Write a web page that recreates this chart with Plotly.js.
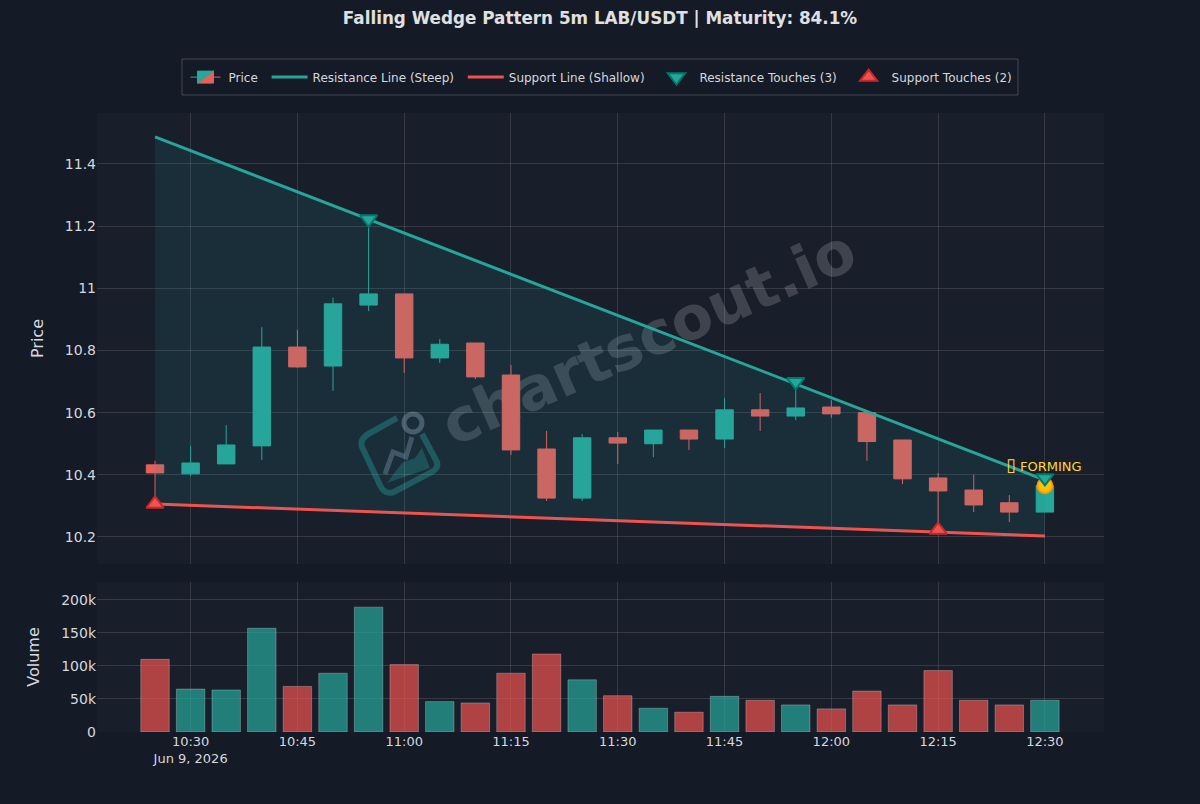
<!DOCTYPE html>
<html><head><meta charset="utf-8">
<script src="https://cdn.plot.ly/plotly-3.0.1.min.js"></script>
<style>html,body{margin:0;padding:0;background:#141a26}</style></head>
<body><div id="chart" style="width:1200px;height:804px"></div>
<script>
const times=["10:25","10:30","10:35","10:40","10:45","10:50","10:55","11:00","11:05","11:10","11:15","11:20","11:25","11:30","11:35","11:40","11:45","11:50","11:55","12:00","12:05","12:10","12:15","12:20","12:25","12:30"].map(t=>"2026-06-09 "+t);
const opens=[10.432,10.403,10.435,10.493,10.811,10.75,10.946,10.982,10.776,10.824,10.721,10.483,10.325,10.519,10.50,10.544,10.515,10.609,10.589,10.618,10.60,10.512,10.39,10.351,10.31,10.28];
const highs=[10.445,10.493,10.56,10.875,10.866,10.97,11.223,10.982,10.837,10.824,10.753,10.541,10.531,10.538,10.544,10.544,10.647,10.663,10.699,10.64,10.60,10.512,10.406,10.40,10.335,10.39];
const lows=[10.306,10.396,10.435,10.448,10.744,10.67,10.927,10.728,10.76,10.708,10.464,10.316,10.316,10.435,10.457,10.48,10.486,10.541,10.576,10.583,10.445,10.37,10.222,10.28,10.248,10.28];
const closes=[10.406,10.438,10.496,10.811,10.747,10.95,10.982,10.776,10.82,10.715,10.48,10.325,10.519,10.502,10.544,10.515,10.609,10.589,10.615,10.596,10.507,10.387,10.348,10.303,10.28,10.365];
const volumes=[110000,65000,63600,157000,69000,89000,189000,102000,46000,44000,89000,118000,79000,55000,36000,30000,54000,48000,41000,35000,62000,41000,93000,48000,41000,48000];
const lineX=["2026-06-09 10:25","2026-06-09 12:30"];
const resistanceY=[11.487,10.383];
const supportY=[10.306,10.203];
const resTouchX=["2026-06-09 10:55","2026-06-09 11:55","2026-06-09 12:30"];
const resTouchY=[11.223,10.699,10.39];
const supTouchX=["2026-06-09 10:25","2026-06-09 12:15"];
const supTouchY=[10.306,10.222];
const formingX=["2026-06-09 12:30"];
const formingY=[10.365];
const TEAL="#26a69a",RED="#ef5350",CTEAL="#27a899",CRED="#e4605a",PAD="\u00a0";
const volColors=closes.map((c,i)=>c>=opens[i]?"rgba(38,166,154,0.7)":"rgba(239,83,80,0.7)");
const data=[
 {type:"scatter",mode:"lines",x:lineX,y:resistanceY,line:{width:0},showlegend:false,hoverinfo:"skip",xaxis:"x",yaxis:"y"},
 {type:"scatter",mode:"lines",x:lineX,y:supportY,line:{width:0},fill:"tonexty",fillcolor:"rgba(40,155,160,0.13)",showlegend:false,hoverinfo:"skip",xaxis:"x",yaxis:"y"},
 {type:"candlestick",name:"Price"+PAD,x:times,open:opens,high:highs,low:lows,close:closes,
  increasing:{line:{color:CTEAL,width:1},fillcolor:CTEAL},decreasing:{line:{color:CRED,width:1},fillcolor:CRED},xaxis:"x",yaxis:"y"},
 {type:"scatter",mode:"lines",name:"Resistance Line (Steep)"+PAD,x:lineX,y:resistanceY,line:{color:TEAL,width:3},xaxis:"x",yaxis:"y"},
 {type:"scatter",mode:"lines",name:"Support Line (Shallow)"+PAD,x:lineX,y:supportY,line:{color:RED,width:3},xaxis:"x",yaxis:"y"},
 {type:"scatter",mode:"markers",showlegend:false,x:formingX,y:formingY,marker:{symbol:"circle",size:15,color:"#ffc107",line:{color:"#ff9800",width:2}},xaxis:"x",yaxis:"y"},
 {type:"scatter",mode:"markers",name:"Resistance Touches (3)"+PAD,x:resTouchX,y:resTouchY,marker:{symbol:"triangle-down",size:15,color:TEAL,line:{color:"#00796b",width:2}},xaxis:"x",yaxis:"y"},
 {type:"scatter",mode:"markers",name:"Support Touches (2)",x:supTouchX,y:supTouchY,marker:{symbol:"triangle-up",size:15,color:RED,line:{color:"#c62828",width:2}},xaxis:"x",yaxis:"y"},
 {type:"bar",name:"Volume",showlegend:false,x:times,y:volumes,marker:{color:volColors,line:{color:"rgba(255,255,255,0.25)",width:1}},xaxis:"x2",yaxis:"y2"}
];
const logoSvg='<svg xmlns="http://www.w3.org/2000/svg" width="100" height="100" viewBox="0 0 100 100">'
 +'<path d="M47 13 L22 27 Q9 33 12 42 L30 80 Q34 90 44 87 L82 67 Q90 62 86 55 L72 29" fill="none" stroke="#26a69a" stroke-opacity="0.38" stroke-width="6"/>'
 +'<path d="M37 78 L52 58 L65 53 L72 43 L80 63Z" fill="#26a69a" fill-opacity="0.3"/>'
 +'<path d="M35 69 L43 47 L56 52 L62 32" fill="none" stroke="#9ab" stroke-opacity="0.35" stroke-width="5"/>'
 +'<circle cx="63" cy="18" r="9" fill="none" stroke="#9ab" stroke-opacity="0.4" stroke-width="5"/></svg>';
const xcommon={type:"date",range:["2026-06-09 10:16:51","2026-06-09 12:38:18"],dtick:900000,tick0:"2026-06-09 10:30",
 gridcolor:"rgba(255,255,255,0.12)",gridwidth:1,zeroline:false,showline:false,tickfont:{color:"#d6d8de",size:13,family:"DejaVu Sans"},ticks:"",rangeslider:{visible:false}};
const ycommon={gridcolor:"rgba(255,255,255,0.12)",gridwidth:1,zeroline:false,showline:false,tickfont:{color:"#d6d8de",size:14,family:"DejaVu Sans"},ticks:""};
const layout={
 width:1200,height:804,paper_bgcolor:"#141a26",plot_bgcolor:"#191e2b",
 font:{family:"DejaVu Sans",color:"#d6d8de"},
 margin:{l:97,r:96,t:113,b:72,pad:0},
 title:{text:"Falling Wedge Pattern 5m LAB/USDT | Maturity: 84.1%",x:0.5,xanchor:"center",y:0.977,yanchor:"middle",font:{family:"DejaVu Sans",size:16.8,color:"#e0e0e0",weight:"bold"}},
 showlegend:true,
 legend:{orientation:"h",traceorder:"normal",itemwidth:36,x:0.4995,xanchor:"center",y:1.058,yanchor:"middle",bgcolor:"rgba(0,0,0,0)",borderwidth:0,font:{size:12,color:"#d6d8de",family:"DejaVu Sans"}},
 bargap:0.2,
 xaxis:Object.assign({},xcommon,{domain:[0,1],anchor:"y",showticklabels:false}),
 yaxis:Object.assign({},ycommon,{domain:[0.2714,1],range:[10.113,11.564],dtick:0.2,tick0:10.2,title:{text:"Price",font:{size:16,color:"#d6d8de"},standoff:17}}),
 xaxis2:Object.assign({},xcommon,{domain:[0,1],anchor:"y2",matches:"x"}),
 yaxis2:Object.assign({},ycommon,{domain:[0,0.2423],range:[0,227000],dtick:50000,tickformat:"~s",title:{text:"Volume",font:{size:16,color:"#d6d8de"},standoff:17}}),
 shapes:[
  {type:"rect",xref:"paper",yref:"paper",x0:0.0844,x1:0.9146,y0:1.0291,y1:1.0872,line:{color:"rgba(255,255,255,0.2)",width:1},fillcolor:"rgba(0,0,0,0)",layer:"above"},
  {type:"rect",xref:"paper",yref:"paper",x0:0.346,x1:0.746,y0:0.544,y1:0.744,line:{width:0},fillcolor:"rgba(0,0,0,0)",layer:"below",
   label:{text:"<b>chartscout.io</b>",textangle:-24,textposition:"middle center",font:{family:"DejaVu Sans",size:60,color:"rgba(255,255,255,0.17)"}}}
 ],
 annotations:[
  {xref:"x",yref:"y",x:"2026-06-09 12:30",y:10.42,yanchor:"bottom",text:'<span style="font-size:18px">\u25AF</span> FORMING',showarrow:false,xshift:-1,yshift:-8,font:{color:"#ffd92e",size:13,family:"DejaVu Sans"}}
 ],
 images:[{source:"data:image/svg+xml;base64,"+btoa(logoSvg),xref:"paper",yref:"paper",x:0.2512,y:0.5283,sizex:0.0993,sizey:0.1616,xanchor:"left",yanchor:"top",sizing:"stretch",opacity:1,layer:"below"}]
};
Plotly.newPlot("chart",data,layout,{displayModeBar:false,responsive:false});
</script></body></html>
